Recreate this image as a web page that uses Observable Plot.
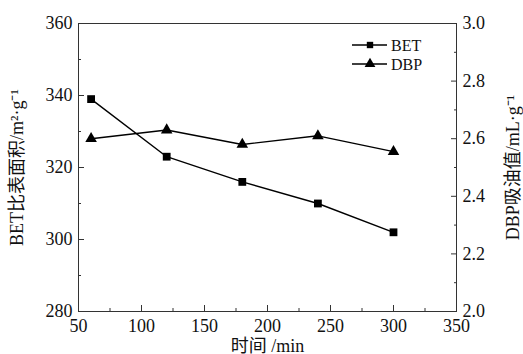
<!DOCTYPE html>
<html><head><meta charset="utf-8">
<script src="https://cdn.jsdelivr.net/npm/d3@7"></script>
<script src="https://cdn.jsdelivr.net/npm/@observablehq/plot@0.6"></script>
<style>body{margin:0;background:#fff} #chart{width:523px;height:354px}</style>
</head><body><div id="chart"></div>
<script>
const time = [60, 120, 180, 240, 300];
const bet = [339, 323, 316, 310, 302];
const dbp = [2.60, 2.63, 2.58, 2.61, 2.555];
const xTicks = [50, 100, 150, 200, 250, 300, 350];
const xMinor = [75, 125, 175, 225, 275, 325];
const yLeftTicks = [280, 300, 320, 340, 360];
const yLeftMinor = [290, 310, 330, 350];
const yRightTicks = [2.0, 2.2, 2.4, 2.6, 2.8, 3.0];
const yRightMinor = [2.1, 2.3, 2.5, 2.7, 2.9];
const seriesNames = ["BET", "DBP"];
const xLabel = "时间 /min";
const yLeftLabel = "BET比表面积/m²·g⁻¹";
const yRightLabel = "DBP吸油值/mL·g⁻¹";

// right axis (DBP, 2.0–3.0) shares the plot's y scale (BET, 280–360)
const toLeft = v => 280 + (v - 2.0) * 80;
const fromLeft = v => (v - 280) / 80 + 2.0;
const betData = time.map((t, i) => ({t, v: bet[i]}));
const dbpData = time.map((t, i) => ({t, v: toLeft(dbp[i])}));

const font = "'Liberation Serif','Times New Roman','Noto Sans CJK SC',serif";
const ink = "#111";

const chart = Plot.plot({
  width: 523, height: 354,
  marginLeft: 78, marginRight: 67, marginTop: 23, marginBottom: 43,
  style: {fontFamily: font, fontSize: "18px", color: ink, background: "#fff"},
  x: {domain: [50, 350]},
  y: {domain: [280, 360]},
  marks: [
    Plot.frame({stroke: "#333"}),
    Plot.axisX(xTicks, {tickSize: -6, tickPadding: 14, stroke: "#333", label: xLabel, labelAnchor: "center", labelArrow: "none", labelOffset: 40}),
    Plot.axisX(xMinor, {tickSize: -3, stroke: "#333", fill: "none", label: null}),
    Plot.axisY(yLeftTicks, {anchor: "left", tickSize: -6, tickPadding: 12, stroke: "#333", label: yLeftLabel, labelAnchor: "center", labelArrow: "none", labelOffset: 68}),
    Plot.axisY(yLeftMinor, {anchor: "left", tickSize: -3, stroke: "#333", fill: "none", label: null}),
    Plot.axisY(yRightTicks.map(toLeft), {anchor: "right", tickSize: -6, tickPadding: 12, stroke: "#333", tickFormat: d => fromLeft(d).toFixed(1), label: yRightLabel, labelAnchor: "center", labelArrow: "none", labelOffset: 62}),
    Plot.axisY(yRightMinor.map(toLeft), {anchor: "right", tickSize: -3, stroke: "#333", fill: "none", label: null}),
    Plot.line(betData, {x: "t", y: "v", stroke: "#000", strokeWidth: 1.4}),
    Plot.line(dbpData, {x: "t", y: "v", stroke: "#000", strokeWidth: 1.4}),
    Plot.dot(betData, {x: "t", y: "v", symbol: "square", r: 4.4, fill: "#000", stroke: "none"}),
    Plot.dot(dbpData, {x: "t", y: "v", symbol: "triangle", r: 4.3, fill: "#000", stroke: "none"})
  ]
});
document.getElementById("chart").appendChild(chart);

// legend
const svg = d3.select(chart);
const lg = svg.append("g").attr("font-family", font).attr("font-size", 16).attr("fill", ink).attr("text-anchor", "start");
const shapes = [d3.symbolSquare, d3.symbolTriangle];
const sizes = [Math.PI * 3.6 * 3.6, Math.PI * 4.0 * 4.0];
seriesNames.forEach((name, i) => {
  const y = 45 + i * 19;
  lg.append("line").attr("x1", 352).attr("x2", 387).attr("y1", y).attr("y2", y).attr("stroke", "#000").attr("stroke-width", 1.4);
  lg.append("path").attr("d", d3.symbol(shapes[i], sizes[i])()).attr("transform", `translate(370,${y})`).attr("fill", "#000");
  lg.append("text").attr("x", 391).attr("y", y).attr("dy", "0.35em").attr("text-anchor", "start").text(name);
});
</script>
</body></html>
